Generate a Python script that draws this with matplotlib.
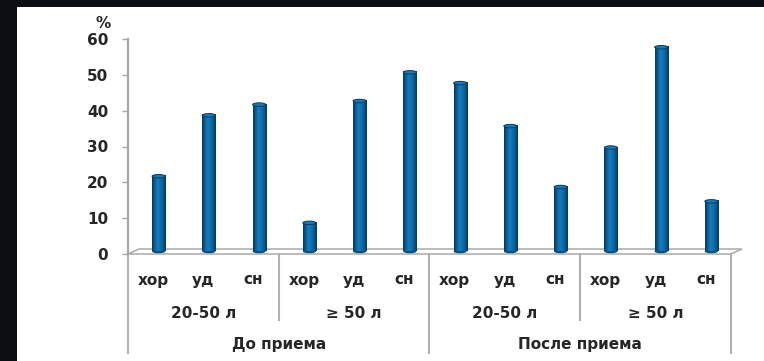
import matplotlib
matplotlib.use("Agg")
import matplotlib.pyplot as plt
import numpy as np
from matplotlib.patches import Rectangle, Polygon, Ellipse
from matplotlib.colors import LinearSegmentedColormap
from matplotlib import transforms

# Data
periods = ["До приема", "После приема"]
age_groups = ["20-50 л", "≥ 50 л"]
states = ["хор", "уд", "сн"]
values = [21, 38, 41,   # до приема, 20-50 л
          8, 42, 50,    # до приема, ≥ 50 л
          47, 35, 18,   # после приема, 20-50 л
          29, 57, 14]   # после приема, ≥ 50 л
yticks = [0, 10, 20, 30, 40, 50, 60]

W, H, DPI = 764, 361, 100
fig = plt.figure(figsize=(W / DPI, H / DPI), dpi=DPI)
fig.patch.set_facecolor("#0b0e13")
fig.patches.append(Rectangle((17 / W, 0), 1 - 17 / W, (H - 7) / H,
                             transform=fig.transFigure, facecolor="white",
                             edgecolor="none", zorder=-5))

x0, x1, ytop, ybot = 128, 731, 39, 254
ax = fig.add_axes([x0 / W, (H - ybot) / H, (x1 - x0) / W, (ybot - ytop) / H])
ax.set_facecolor("none")
ax.set_xlim(0, 12)
ax.set_ylim(0, 60)

txt_color = "#262626"
grid_gray = "#b0b0b0"

# Floor of the 3-D plot (depth drawn as a pixel offset)
depth_x, depth_y = 11, 5
px_x = 12 / (x1 - x0)
px_y = 60 / (ybot - ytop)
dx, dy = depth_x * px_x, depth_y * px_y
ax.add_patch(Polygon([(0, 0), (dx, dy), (12 + dx, dy), (12, 0)], closed=True,
                     facecolor="white", edgecolor=grid_gray, lw=1.2,
                     clip_on=False, zorder=1))

# Cylinder bars, placed at mid-depth of the floor
bar_tr = transforms.offset_copy(ax.transData, fig=fig, x=depth_x / 2,
                                y=depth_y / 2, units="dots")
cyl = LinearSegmentedColormap.from_list(
    "cyl", ["#0a3658", "#0a5e98", "#167dbd", "#0f70ae", "#0a5990", "#0a3759"])
grad = np.linspace(0, 1, 64)[None, :]
bw = 0.26
cap_h = 3.5 * px_y
n = len(values)
for i, v in enumerate(values):
    xc = i + 0.5
    im = ax.imshow(grad, cmap=cyl, extent=(xc - bw / 2, xc + bw / 2, 0, v),
                   aspect="auto", interpolation="bilinear", zorder=3,
                   clip_on=False)
    im.set_transform(bar_tr)
    ax.add_patch(Ellipse((xc, 0), bw, cap_h, facecolor="#0a4f80",
                         edgecolor="none", zorder=2.9, clip_on=False,
                         transform=bar_tr))
    ax.add_patch(Ellipse((xc, v), bw, cap_h, facecolor="#1878b4",
                         edgecolor="#0a3d63", lw=0.7, zorder=4, clip_on=False,
                         transform=bar_tr))
ax.set_xlim(0, 12)
ax.set_ylim(0, 60)

# Axes styling
for s in ["top", "right", "bottom"]:
    ax.spines[s].set_visible(False)
ax.spines["left"].set_color("#a6a6a6")
ax.spines["left"].set_linewidth(1.6)
ax.set_xticks([])
ax.set_yticks(yticks)
ax.tick_params(axis="y", direction="out", length=4.3, width=1.0,
               color="#a6a6a6", pad=10, labelsize=11, labelcolor=txt_color)
for lab in ax.get_yticklabels():
    lab.set_fontweight("bold")

fig.text(103 / W, 1 - 24 / H, "%", ha="center", va="center",
         fontsize=11, fontweight="bold", color=txt_color)

# Multi-level category table under the axis
xt = ax.get_xaxis_transform()

def below(px):
    return transforms.offset_copy(xt, fig=fig, y=-px, units="dots")

for i in range(n):
    ax.text(i + 0.5, 0, states[i % 3], transform=below(26), ha="center",
            va="center", fontsize=11, fontweight="bold", color=txt_color)
for j in range(4):
    ax.text(j * 3 + 1.5, 0, age_groups[j % 2], transform=below(59),
            ha="center", va="center", fontsize=11, fontweight="bold",
            color=txt_color)
for k, p in enumerate(periods):
    ax.text(k * 6 + 3, 0, p, transform=below(91), ha="center", va="center",
            fontsize=11, fontweight="bold", color=txt_color)

# Separator lines
line_tr = transforms.blended_transform_factory(ax.transData, fig.dpi_scale_trans)
y0_in = (H - ybot) / DPI
for xs, depth in [(0, 99), (3, 66), (6, 99), (9, 66), (12, 99)]:
    ax.add_line(plt.Line2D([xs, xs], [y0_in, y0_in - depth / DPI],
                           transform=line_tr, color=grid_gray, lw=1.5,
                           clip_on=False, zorder=1))

fig.savefig("out.png", dpi=DPI, facecolor=fig.get_facecolor())
